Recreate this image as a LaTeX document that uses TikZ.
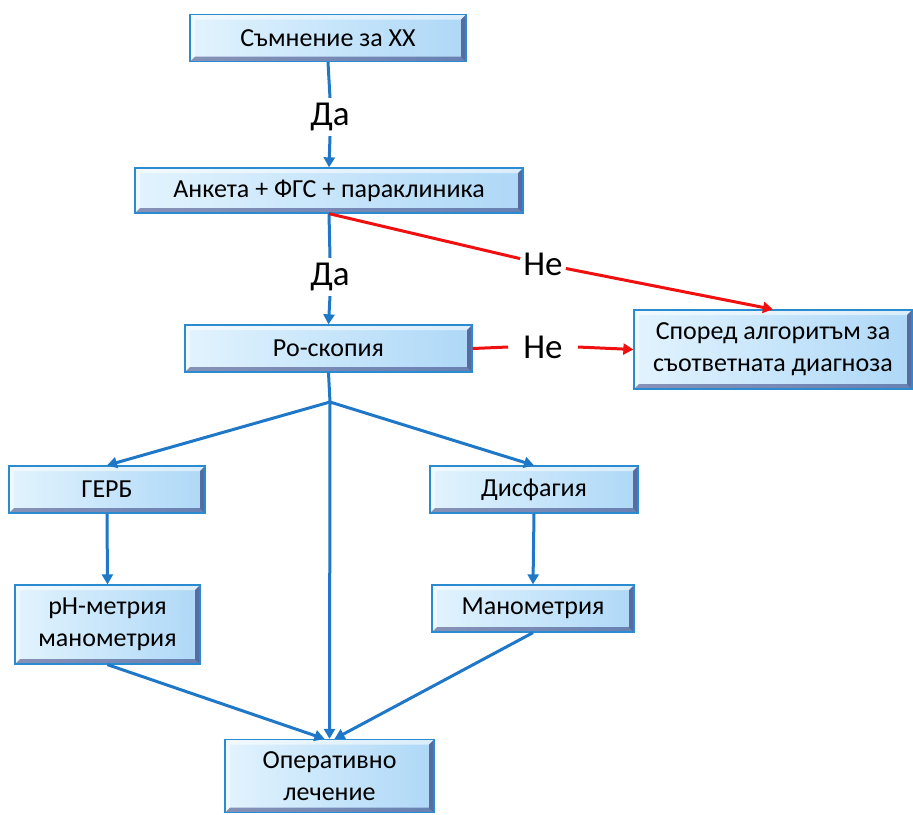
\documentclass[tikz,border=0pt]{standalone}
\usepackage{fontspec}
\setmainfont{Carlito}
\usetikzlibrary{arrows.meta}
\definecolor{bluel}{HTML}{1F77C8}
\definecolor{boxl}{HTML}{E2F3FE}
\definecolor{boxr}{HTML}{AED8F7}
\definecolor{boxd}{HTML}{2B8BD0}
\definecolor{redl}{HTML}{F01010}
\tikzset{
  box/.style={draw=boxd, line width=1.3pt, left color=boxl, right color=boxr,
    font=\fontsize{26}{32}\selectfont, align=center, inner sep=0pt, text=black,
    path picture={
      \fill[white,opacity=.55] (path picture bounding box.north west) -- (path picture bounding box.north east)
        -- ([xshift=-5pt,yshift=-5pt]path picture bounding box.north east) -- ([xshift=5pt,yshift=-5pt]path picture bounding box.north west) -- cycle;
      \fill[white,opacity=.45] (path picture bounding box.north west) -- (path picture bounding box.south west)
        -- ([xshift=5pt,yshift=5pt]path picture bounding box.south west) -- ([xshift=5pt,yshift=-5pt]path picture bounding box.north west) -- cycle;
      \fill[black!70!blue,opacity=.5] (path picture bounding box.north east) -- (path picture bounding box.south east)
        -- ([xshift=-5pt,yshift=5pt]path picture bounding box.south east) -- ([xshift=-5pt,yshift=-5pt]path picture bounding box.north east) -- cycle;
      \fill[black!70!blue,opacity=.4] (path picture bounding box.south west) -- (path picture bounding box.south east)
        -- ([xshift=-5pt,yshift=5pt]path picture bounding box.south east) -- ([xshift=5pt,yshift=5pt]path picture bounding box.south west) -- cycle;
    }},
  lbl/.style={font=\fontsize{35}{38}\selectfont, inner sep=3pt, text=black},
  barrow/.style={draw=bluel, line width=3pt, -{Triangle[length=10pt,width=11pt]}},
  bline/.style={draw=bluel, line width=3pt},
  rarrow/.style={draw=redl, line width=3pt, -{Triangle[length=10pt,width=11pt]}},
  rline/.style={draw=redl, line width=3pt},
}
\begin{document}
\begin{tikzpicture}[x=1pt,y=-1pt]
\useasboundingbox (0,0) rectangle (913,814);
\node[box, minimum width=276pt, minimum height=47pt] (b1) at (328,38) {Съмнение за ХХ};
\node[box, minimum width=388pt, minimum height=45pt] (b2) at (329,190.5) {Анкета + ФГС + параклиника};
\node[box, minimum width=287pt, minimum height=47pt] (b3) at (328.5,348.5) {Ро-скопия};
\node[box, minimum width=278pt, minimum height=79pt] (b4) at (773,349.5) {Според алгоритъм за\\съответната диагноза};
\node[box, minimum width=196pt, minimum height=47pt] (gerb) at (107,489.5) {ГЕРБ};
\node[box, minimum width=208pt, minimum height=47pt] (disf) at (534,489.5) {Дисфагия};
\node[box, minimum width=185pt, minimum height=79pt] (ph) at (107.5,624.5) {рН-метрия\\манометрия};
\node[box, minimum width=202pt, minimum height=47pt] (mano) at (533,608.5) {Манометрия};
\node[box, minimum width=209pt, minimum height=73pt] (oper) at (329.5,776) {Оперативно\\лечение};

\node[lbl] (da1) at (330,117) {Да};
\node[lbl] (da2) at (330,277) {Да};
\node[lbl] (ne1) at (543,264) {Не};
\node[lbl] (ne2) at (543,347) {Не};
\coordinate (br) at (330,402);

\draw[bline] (b1.south) -- ([yshift=2pt]da1.north);
\draw[barrow] ([yshift=-2pt]da1.south) -- (b2.north);
\draw[bline] (b2.south) -- ([yshift=2pt]da2.north);
\draw[barrow] ([yshift=-2pt]da2.south) -- (b3.north);

\draw[rline] (b2.south) -- (ne1);
\draw[rarrow] (ne1) -- (b4.north);
\draw[rline] (b3.east) -- ([xshift=-12pt]ne2.west);
\draw[rarrow] ([xshift=12pt]ne2.east) -- (b4.west);

\draw[bline] (b3.south) -- (br);
\draw[barrow] (br) -- (gerb.north);
\draw[barrow] (br) -- (disf.north);
\draw[barrow] (br) -- (oper.north);
\draw[barrow] (gerb.south) -- (ph.north);
\draw[barrow] (disf.south) -- (mano.north);
\draw[barrow] (ph.south) -- ([xshift=-5pt]oper.north);
\draw[barrow] (mano.south) -- ([xshift=5pt]oper.north);
\end{tikzpicture}
\end{document}
